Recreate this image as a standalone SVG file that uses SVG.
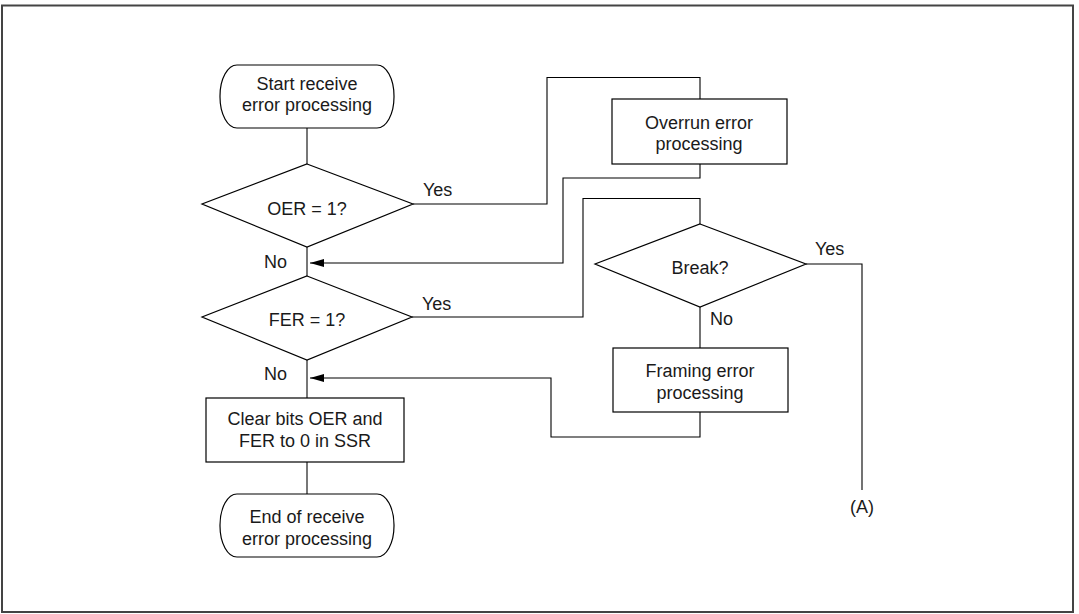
<svg xmlns="http://www.w3.org/2000/svg" width="1079" height="614" viewBox="0 0 1079 614">
<style>
.shape{fill:#fff;stroke:#000;stroke-width:1.2}
.flow{fill:none;stroke:#555;stroke-width:1.6}
.link{fill:none;stroke:#000;stroke-width:1.1}
text{font-family:"Liberation Sans",Arial,sans-serif;font-size:18px;fill:#1a1a1a}
.c{text-anchor:middle}
</style>
<defs>
<marker id="arr" viewBox="0 0 14 8" refX="14" refY="4" markerWidth="14" markerHeight="8" markerUnits="userSpaceOnUse" orient="auto">
<path d="M0,0 L14,4 L0,8 z" fill="#000"/>
</marker>
</defs>
<rect x="2" y="5.5" width="1071" height="606.5" fill="#fff" stroke="#444" stroke-width="2"/>
<g id="connectors">
<path class="flow" d="M307,128 V164"/>
<path class="flow" d="M307,247 V276"/>
<path class="flow" d="M307,360 V398"/>
<path class="flow" d="M307,462 V494"/>
<path class="link" d="M413,204 H547 V77.5 H700 V99"/>
<path class="link" d="M700,164 V178 H563 V263 H310" marker-end="url(#arr)"/>
<path class="link" d="M412,317 H583 V198.5 H700 V224"/>
<path class="link" d="M700,307 V348"/>
<path class="link" d="M700,412 V437 H551 V378 H310" marker-end="url(#arr)"/>
<path class="link" d="M806,264 H862 V490"/>
</g>
<g id="start">
<rect class="shape" x="220" y="65" width="174" height="63" rx="17" ry="31"/>
<text class="c" x="307" y="90">Start receive</text>
<text class="c" x="307" y="111">error processing</text>
</g>
<g id="oer">
<polygon class="shape" points="307,164 413,204 307,247 202,204"/>
<text class="c" x="307" y="215">OER = 1?</text>
<text x="423" y="196">Yes</text>
<text x="264" y="268">No</text>
</g>
<g id="overrun">
<rect class="shape" x="612" y="99" width="175" height="65"/>
<text class="c" x="699" y="129">Overrun error</text>
<text class="c" x="699" y="150">processing</text>
</g>
<g id="fer">
<polygon class="shape" points="307,276 412,317 307,360 202,317"/>
<text class="c" x="307" y="326">FER = 1?</text>
<text x="422" y="310">Yes</text>
<text x="264" y="380">No</text>
</g>
<g id="break">
<polygon class="shape" points="700,224 806,264 700,307 595,264"/>
<text class="c" x="700" y="274">Break?</text>
<text x="815" y="255">Yes</text>
<text x="710" y="325">No</text>
</g>
<g id="framing">
<rect class="shape" x="613" y="348" width="175" height="64"/>
<text class="c" x="700" y="377">Framing error</text>
<text class="c" x="700" y="399">processing</text>
</g>
<g id="clear">
<rect class="shape" x="206" y="398" width="198" height="64"/>
<text class="c" x="305" y="425">Clear bits OER and</text>
<text class="c" x="305" y="447">FER to 0 in SSR</text>
</g>
<g id="end">
<rect class="shape" x="220" y="494" width="174" height="63" rx="17" ry="31"/>
<text class="c" x="307" y="523">End of receive</text>
<text class="c" x="307" y="545">error processing</text>
</g>
<g id="a">
<text class="c" x="862" y="513">(A)</text>
</g>
</svg>
